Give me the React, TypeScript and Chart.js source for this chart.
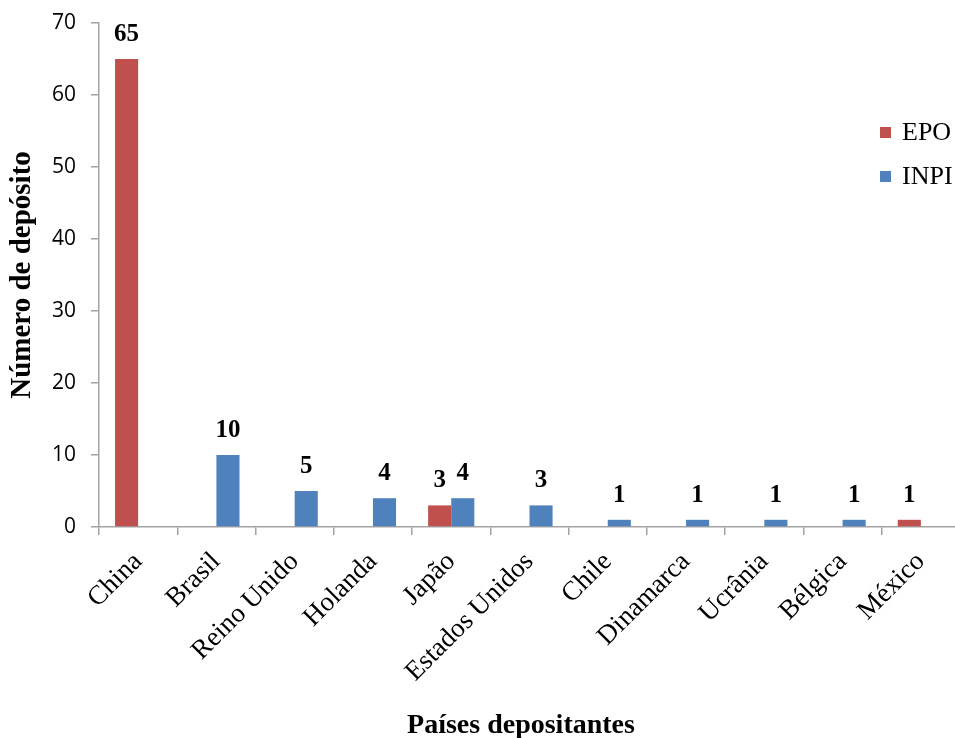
import React, { useEffect, useRef } from "react";
import { Chart, registerables } from "chart.js";

Chart.register(...registerables);

const categories = [
  "China",
  "Brasil",
  "Reino Unido",
  "Holanda",
  "Japão",
  "Estados Unidos",
  "Chile",
  "Dinamarca",
  "Ucrânia",
  "Bélgica",
  "México",
];
const epoValues = [65, 0, 0, 0, 3, 0, 0, 0, 0, 0, 1];
const inpiValues = [0, 10, 5, 4, 4, 3, 1, 1, 1, 1, 0];
const seriesNames = ["EPO", "INPI"];
const seriesColors = ["#C0504D", "#4F81BD"];
const yTicks = [0, 10, 20, 30, 40, 50, 60, 70];
const yTitle = "Número de depósito";
const xTitle = "Países depositantes";

const SERIF = "'Liberation Serif', 'Times New Roman', serif";
const AXIS_COLOR = "#A3A3A3";

const valueLabels = {
  id: "valueLabels",
  afterDatasetsDraw(chart: any) {
    const ctx = chart.ctx;
    ctx.save();
    ctx.font = `bold 25px ${SERIF}`;
    ctx.fillStyle = "#000";
    ctx.textAlign = "center";
    ctx.textBaseline = "alphabetic";
    chart.data.datasets.forEach((ds: any, di: number) => {
      const meta = chart.getDatasetMeta(di);
      meta.data.forEach((bar: any, i: number) => {
        const v = ds.data[i];
        if (!v) return;
        ctx.fillText(String(v), bar.x, bar.y - 18);
      });
    });
    ctx.restore();
  },
};

const extraText = {
  id: "extraText",
  afterDraw(chart: any) {
    const ctx = chart.ctx;
    ctx.save();
    // x-axis title
    ctx.font = `bold 28px ${SERIF}`;
    ctx.fillStyle = "#000";
    ctx.textAlign = "center";
    ctx.textBaseline = "alphabetic";
    ctx.fillText(xTitle, 521, 733);
    // legend
    ctx.font = `26px ${SERIF}`;
    ctx.textAlign = "left";
    const ys = [132, 176];
    chart.data.datasets.forEach((ds: any, i: number) => {
      ctx.fillStyle = ds.backgroundColor;
      ctx.fillRect(880, ys[i] - 5, 11, 11);
      ctx.fillStyle = "#000";
      ctx.fillText(ds.label, 902, ys[i] + 8);
    });
    ctx.restore();
  },
};

export default function App() {
  const ref = useRef<HTMLCanvasElement>(null);

  useEffect(() => {
    document.body.style.margin = "0";
    const canvas = ref.current;
    if (!canvas) return;
    const chart = new Chart(canvas, {
      type: "bar",
      data: {
        labels: categories,
        datasets: [
          {
            label: seriesNames[0],
            data: epoValues,
            backgroundColor: seriesColors[0],
            categoryPercentage: 0.59,
            barPercentage: 1,
          },
          {
            label: seriesNames[1],
            data: inpiValues,
            backgroundColor: seriesColors[1],
            categoryPercentage: 0.59,
            barPercentage: 1,
          },
        ],
      },
      options: {
        animation: false,
        responsive: false,
        layout: { padding: { top: 23, left: 0, right: 0, bottom: 0 } },
        plugins: {
          legend: { display: false },
          tooltip: { enabled: false },
        },
        scales: {
          x: {
            offset: true,
            grid: {
              display: true,
              offset: true,
              drawOnChartArea: false,
              drawTicks: true,
              tickLength: 8,
              color: AXIS_COLOR,
              lineWidth: 1.5,
            },
            border: { display: true, color: AXIS_COLOR, width: 1.5 },
            ticks: {
              color: "#000",
              font: { family: SERIF, size: 27 },
              minRotation: 45,
              maxRotation: 45,
              autoSkip: false,
              padding: 11,
            },
            title: { display: false, text: xTitle },
            afterFit(scale: any) {
              scale.height = 211;
              scale.paddingLeft = 0;
              scale.paddingRight = 0;
            },
          },
          y: {
            min: 0,
            max: 70,
            afterBuildTicks(scale: any) {
              scale.ticks = yTicks.map((v) => ({ value: v }));
            },
            grid: {
              display: true,
              drawOnChartArea: false,
              drawTicks: true,
              tickLength: 8,
              color: AXIS_COLOR,
              lineWidth: 1.5,
            },
            border: { display: true, color: AXIS_COLOR, width: 1.5 },
            ticks: {
              color: "#000",
              font: { family: "'Open Sans', sans-serif", size: 21 },
              padding: 15,
            },
            title: {
              display: true,
              text: yTitle,
              color: "#000",
              font: { family: SERIF, size: 29, weight: "bold", lineHeight: 1 },
              padding: { top: 8, bottom: 0 },
            },
            afterFit(scale: any) {
              scale.width = 99;
              scale.paddingTop = 0;
              scale.paddingBottom = 0;
            },
          },
        },
      },
      plugins: [valueLabels, extraText],
    });
    return () => chart.destroy();
  }, []);

  return (
    <div
      style={{
        width: 955,
        height: 738,
        overflow: "hidden",
        background: "#fff",
        position: "relative",
      }}
    >
      <canvas
        ref={ref}
        width={960}
        height={738}
        style={{ display: "block", width: 960, height: 738 }}
      />
    </div>
  );
}
